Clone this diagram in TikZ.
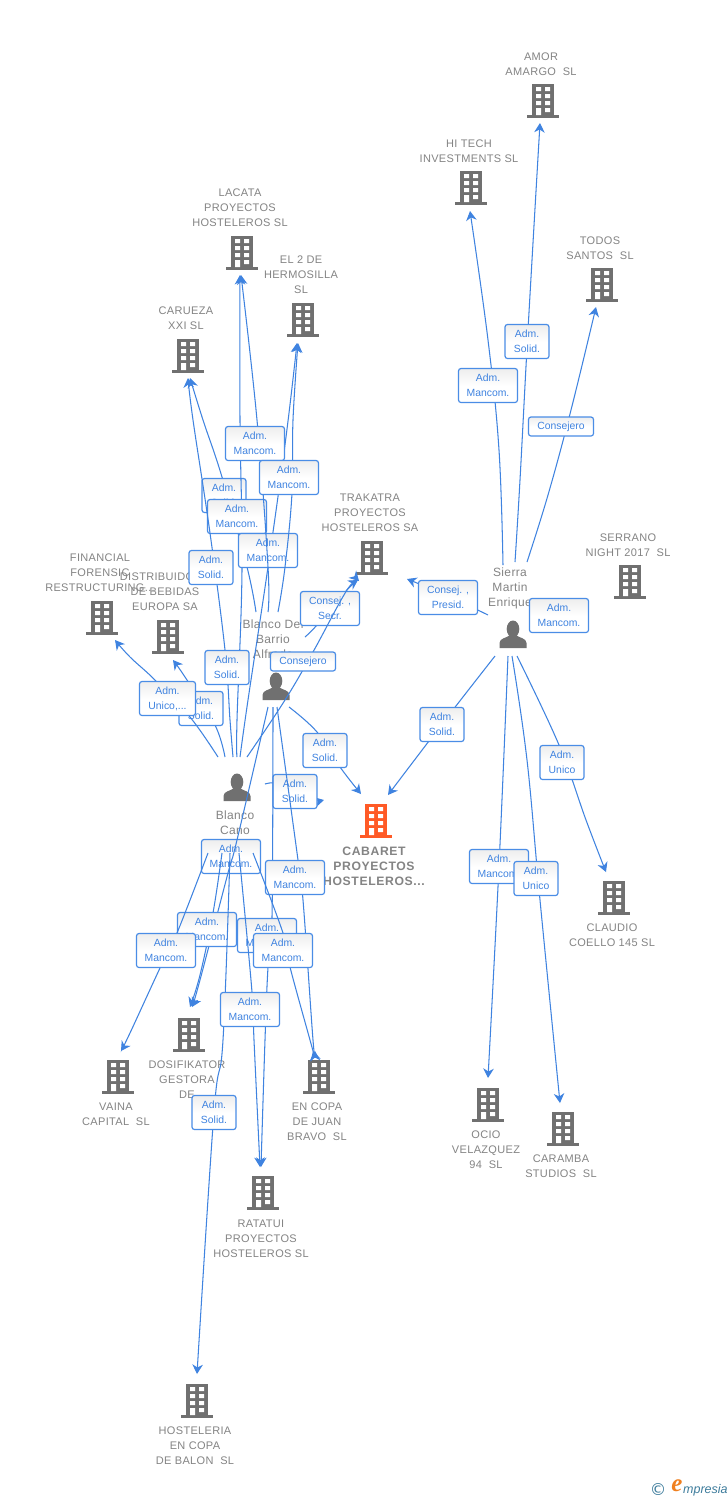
\documentclass[tikz,border=0pt]{standalone}
\usepackage{fontspec}
\setmainfont{Liberation Sans}
\newfontfamily\capf[LetterSpace=3]{Liberation Sans}
\newfontfamily\boldf[LetterSpace=5]{Liberation Sans Bold}
\newfontfamily\logof{Liberation Serif}
\newfontfamily\logos{Liberation Sans}
\newfontfamily\copyf{DejaVu Sans}
\usetikzlibrary{arrows.meta}
\definecolor{lineblue}{HTML}{3F83E0}
\definecolor{boxblue}{HTML}{4A8DE6}
\definecolor{txtblue}{HTML}{3F83E0}
\definecolor{capgray}{HTML}{848484}
\definecolor{icongray}{HTML}{707070}
\definecolor{hotorange}{HTML}{FF5A26}
\definecolor{logoblue}{HTML}{3D7C9C}
\definecolor{logoorange}{HTML}{F08020}
\tikzset{
  conn/.style={draw=lineblue,line width=1.05pt,-{Stealth[length=9.5pt,width=10.5pt,inset=3pt]}},
  lab/.style={draw=boxblue,line width=1.2pt,rounded corners=2.5pt,top color=black!7,bottom color=white,middle color=white,
    text=txtblue,align=center,inner sep=0pt,font=\fontsize{10.4}{15}\selectfont,minimum height=34pt,shift={(0,0.5)}},
  wm/.style={lab,minimum width=59pt},
  ws/.style={lab,minimum width=44pt},
  wu/.style={lab,minimum width=56pt},
  wc/.style={lab,minimum width=65pt,minimum height=19pt},
  caps/.style={text=capgray,align=center,inner sep=0pt,font=\capf\fontsize{11}{15}\selectfont,shift={(0,1)}},
  hot/.style={text=capgray,align=center,inner sep=0pt,font=\boldf\fontsize{12.2}{15}\selectfont,shift={(0,1)}},
  pname/.style={text=capgray,align=center,inner sep=0pt,font=\capf\fontsize{12}{15}\selectfont,shift={(0,1)}},
  hub/.style={inner sep=0pt,minimum size=28pt},
}
\newcommand\bldicon[3]{%
  \node[inner sep=0pt,minimum width=32pt,minimum height=34pt] (#1) at (#2) {};
  \begin{scope}[shift={(#2)}]
    \fill[#3] (-11,-17) rectangle (11,15);
    \fill[#3] (-16,14.2) rectangle (16,17);
    \fill[white] (-7,-14) rectangle (-2,-10) (2,-14) rectangle (7,-10)
                 (-7,-7) rectangle (-2,-3) (2,-7) rectangle (7,-3)
                 (-7,0) rectangle (-2,4) (2,0) rectangle (7,4)
                 (-7,7) rectangle (-2,14.2) (2,7) rectangle (7,11);
  \end{scope}
}
\newcommand\bld[5]{%
  \bldicon{#1}{#2}{#3}
  \node[caps] (#1-t) at (#4) {#5};
}
\newcommand\prs[4]{%
  \node[hub] (#1) at (#2) {};
  \begin{scope}[shift={(#2)}]
    \fill[icongray] (0,-5) ellipse (6.3 and 8.5);
    \fill[icongray] (-13.5,14) -- (-13.5,9) .. controls (-13.5,4) and (-6,4) .. (-3,1) -- (3,1)
       .. controls (6,4) and (13.5,4) .. (13.5,9) -- (13.5,14) -- cycle;
  \end{scope}
  \node[pname] (#1-t) at (#3) {#4};
}
\newcommand\conna[5]{\draw[conn] plot[smooth,tension=.65] coordinates {([shift={(#2)}]#1.center) #3 ([shift={(#5)}]#4.center)};}
\begin{document}
\begin{tikzpicture}[x=1pt,y=-1pt]
\useasboundingbox (0,0) rectangle (728,1500);
\fill[white] (0,0) rectangle (728,1500);
% buildings
\bld{amor}{543,101}{icongray}{541,63.5}{AMOR\\AMARGO\ \ SL}
\bld{hitech}{471,188}{icongray}{469,150.5}{HI TECH\\INVESTMENTS SL}
\bld{todos}{602,285}{icongray}{600,247.5}{TODOS\\SANTOS\ \ SL}
\bld{lacata}{242,253}{icongray}{240,207}{LACATA\\PROYECTOS\\HOSTELEROS SL}
\bld{eldos}{303,320}{icongray}{301,274}{EL 2 DE\\HERMOSILLA\\SL}
\bld{carueza}{188,356}{icongray}{186,317.5}{CARUEZA\\XXI SL}
\bld{trakatra}{372,558}{icongray}{370,512}{TRAKATRA\\PROYECTOS\\HOSTELEROS SA}
\bld{serrano}{630,582}{icongray}{628,544.5}{SERRANO\\NIGHT 2017\ \ SL}
\bld{financial}{102,618}{icongray}{100,572}{FINANCIAL\\FORENSIC\\RESTRUCTURING...}
\bld{distrib}{168,637}{icongray}{165,591}{DISTRIBUIDORA\\DE BEBIDAS\\EUROPA SA}
\bld{claudio}{614,898}{icongray}{612,934.5}{CLAUDIO\\COELLO 145 SL}
\bld{ocio}{488,1105}{icongray}{486,1149}{OCIO\\VELAZQUEZ\\94\ \ SL}
\bld{caramba}{563,1129}{icongray}{561,1165.5}{CARAMBA\\STUDIOS\ \ SL}
\bld{dosif}{189,1035}{icongray}{187,1079}{DOSIFIKATOR\\GESTORA\\DE}
\bld{vaina}{118,1077}{icongray}{116,1113.5}{VAINA\\CAPITAL\ \ SL}
\bld{encopa}{319,1077}{icongray}{317,1121}{EN COPA\\DE JUAN\\BRAVO\ \ SL}
\bld{ratatui}{263,1193}{icongray}{261,1238}{RATATUI\\PROYECTOS\\HOSTELEROS SL}
\bld{hosteleria}{197,1401}{icongray}{195,1445}{HOSTELERIA\\EN COPA\\DE BALON\ \ SL}
\bldicon{cabaret}{376,821}{hotorange}
\node[hot] (cabaret-n) at (374,865) {CABARET\\PROYECTOS\\HOSTELEROS...};
% persons
\prs{sierra}{513,634}{510,587}{Sierra\\Martin\\Enrique}
\prs{alfredo}{276,686}{273,638}{Blanco Del\\Barrio\\Alfredo}
\prs{cano}{237,787}{235,821.5}{Blanco\\Cano}
% Sierra
\conna{sierra}{2,-72}{(520,480) (528,330)}{amor}{-3,22}
\node[ws] (l1) at (527,341) {Adm.\\Solid.};
\conna{sierra}{-10,-69}{(499,450) (488,340)}{hitech}{-1,23}
\node[wm] (l2) at (488,385) {Adm.\\Mancom.};
\conna{sierra}{14,-72}{(548,495) (571,410)}{todos}{-6,22}
\node[wc] (l3) at (561,426) {Consejero};
\conna{sierra}{-25,-19}{(448,596)}{trakatra}{35,21}
\node[wm] (l4) at (448,597) {Consej. ,\\Presid.};
\node[wm] (l5) at (559,615) {Adm.\\Mancom.};
\conna{sierra}{-18,22}{(442,724)}{cabaret}{12,-26}
\node[ws] (l6) at (442,724) {Adm.\\Solid.};
\conna{sierra}{-5,22}{(499,866)}{ocio}{0,-27}
\node[wm] (l7) at (499,866) {Adm.\\Mancom.};
\conna{sierra}{-1,22}{(527,760) (540,900)}{caramba}{-3,-26}
\node[ws] (l8) at (536,878) {Adm.\\Unico};
\conna{sierra}{4,22}{(559,745) (586,820)}{claudio}{-8,-26}
\node[ws] (l9) at (562,762) {Adm.\\Unico};
% upper fan
\conna{alfredo}{-20,-74}{(247,567) (222,477) (203,420)}{carueza}{2,22}
\node[ws] (l10) at (224,495) {Adm.\\Solid.};
\conna{cano}{0,-30}{(237,720) (242,570) (240,420)}{lacata}{-2,22}
\node[wm] (l11) at (237,516) {Adm.\\Mancom.};
\conna{cano}{-4,-30}{(230,720) (225,650) (210,533) (193,420)}{carueza}{0,22}
\node[ws] (l12) at (211,567) {Adm.\\Solid.};
\node[ws] (l13) at (227,667) {Adm.\\Solid.};
\conna{cano}{3,-30}{(248,700) (268,567) (286,437)}{eldos}{-6,23}
\node[wm] (l14) at (268,550) {Adm.\\Mancom.};
\conna{alfredo}{-8,-74}{(268,567) (257,420)}{lacata}{-1,22}
\node[wm] (l15) at (255,443) {Adm.\\Mancom.};
\conna{alfredo}{2,-74}{(285,567) (292,493) (293,420)}{eldos}{-5,23}
\node[wm] (l16) at (289,477) {Adm.\\Mancom.};
\conna{cano}{-12,-30}{(215,725) (187,680)}{distrib}{5,23}
\node[ws] (l17) at (201,708) {Adm.\\Solid.};
\conna{cano}{-19,-30}{(190,717) (155,680) (130,657)}{financial}{13,22}
\node[wu] (l18) at (167.5,698) {Adm.\\Unico,...};
\conna{alfredo}{29,-49}{(317,625) (346,591)}{trakatra}{-14,22}
\node[wm] (l19) at (330,608) {Consej. ,\\Secr.};
\conna{cano}{10,-30}{(285,700) (313,652) (347,590)}{trakatra}{-13,23}
\node[wc] (l20) at (303,661) {Consejero};
\conna{alfredo}{13,21}{(317,732) (340,767)}{cabaret}{-15,-27}
\node[ws] (l21) at (325,750) {Adm.\\Solid.};
\conna{cano}{28,-3}{(280,784) (308,799)}{cabaret}{-52,-21}
\node[ws] (l22) at (295,791) {Adm.\\Solid.};
% lower fan
\node[wm] (l23) at (231,856) {Adm.\\Mancom.};
\conna{alfredo}{-8,21}{(237,840) (228,873) (200,980)}{dosif}{3,-28}
\conna{cano}{-15,66}{(213,913) (200,975)}{dosif}{1,-28}
\node[wm] (l24) at (207,929) {Adm.\\Mancom.};
\conna{cano}{-29,66}{(177,933) (160,968) (130,1033)}{vaina}{3,-26}
\node[wm] (l25) at (166,950) {Adm.\\Mancom.};
\conna{cano}{-7,66}{(223,1040) (214,1112)}{hosteleria}{0,-27}
\node[ws] (l26) at (214,1112) {Adm.\\Solid.};
\conna{alfredo}{-3,21}{(272,917) (268,967) (265,1040)}{ratatui}{-2,-26}
\node[wm] (l27) at (267,935) {Adm.\\Mancom.};
\conna{alfredo}{1,21}{(298,860) (303,900) (313,1040)}{encopa}{-4,-26}
\node[wm] (l28) at (295,877) {Adm.\\Mancom.};
\conna{cano}{16,66}{(283,933) (290,967) (310,1040)}{encopa}{-6,-26}
\node[wm] (l29) at (283,950) {Adm.\\Mancom.};
\conna{cano}{2,66}{(252,992) (254,1040)}{ratatui}{-3,-26}
\node[wm] (l30) at (250,1009) {Adm.\\Mancom.};
% logo
\node[inner sep=0pt,text=logoblue,font=\copyf\fontsize{16.5}{16.5}\selectfont] (logoc) at (658,1489) {©};
\node[inner sep=0pt,text=logoorange,font=\logof\bfseries\itshape\fontsize{25}{25}\selectfont] (logoe) at (677,1486) {e};
\node[inner sep=0pt,anchor=west,text=logoblue,font=\logos\itshape\fontsize{12.5}{14}\selectfont] (logot) at (683,1490) {mpresia};
\end{tikzpicture}
\end{document}
